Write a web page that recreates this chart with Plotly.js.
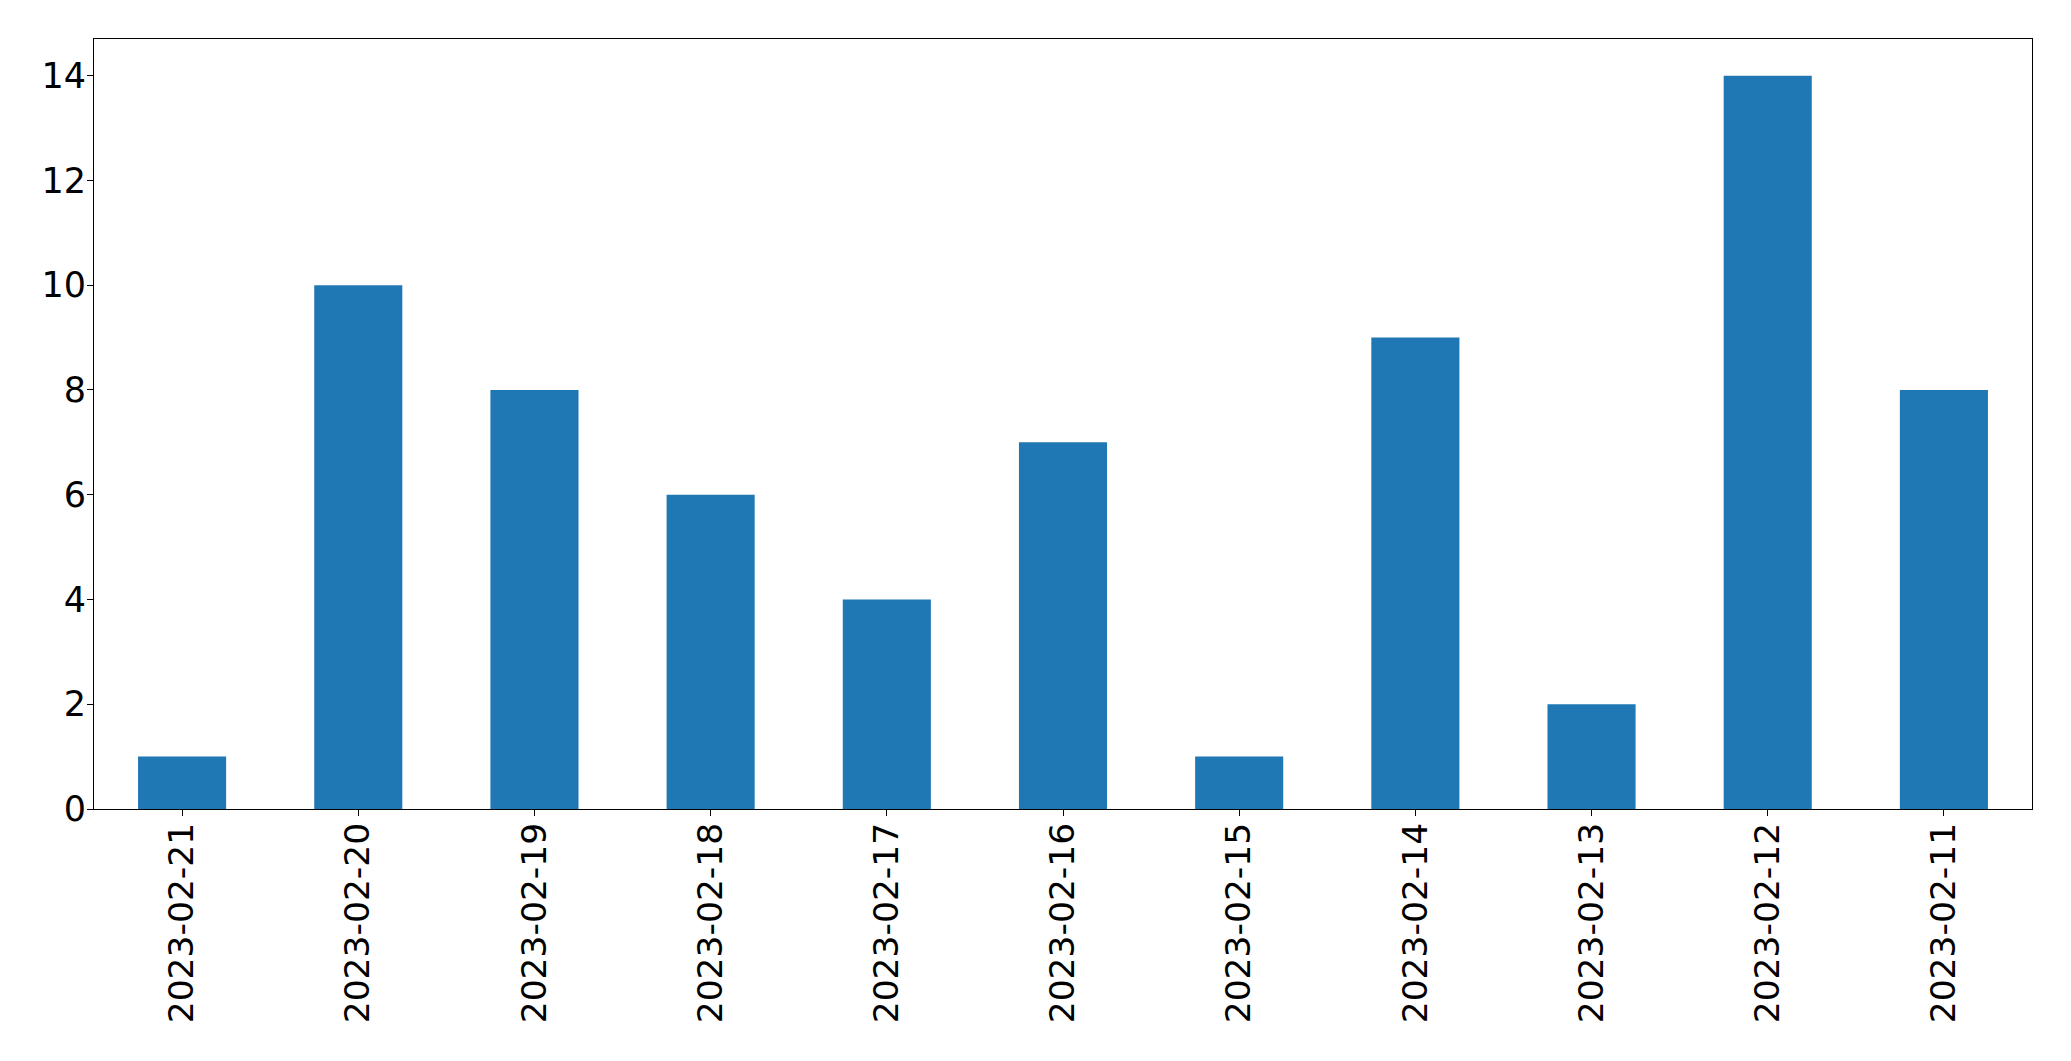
<!DOCTYPE html>
<html>
<head>
<meta charset="utf-8">
<script src="https://cdn.plot.ly/plotly-3.0.1.min.js"></script>
<style>html,body{margin:0;padding:0;background:#fff;}#chart{width:2071px;height:1061px;}</style>
</head>
<body>
<div id="chart"></div>
<script>
const dates = ["2023-02-21","2023-02-20","2023-02-19","2023-02-18","2023-02-17","2023-02-16","2023-02-15","2023-02-14","2023-02-13","2023-02-12","2023-02-11"];
const counts = [1,10,8,6,4,7,1,9,2,14,8];
const yTicks = [0,2,4,6,8,10,12,14];

const font = {family: "DejaVu Sans", size: 35, color: "#000"};
const xfont = {family: "DejaVu Sans", size: 34.5, color: "#000"};
Plotly.newPlot("chart", [{
  type: "bar",
  x: dates,
  y: counts,
  marker: {color: "#1f77b4", line: {width: 0}},
  hoverinfo: "x+y"
}], {
  width: 2071, height: 1061,
  margin: {l: 94, r: 39, t: 39, b: 252, pad: 0},
  paper_bgcolor: "#fff", plot_bgcolor: "#fff",
  bargap: 0.5,
  showlegend: false,
  font: font,
  xaxis: {
    type: "category",
    range: [-0.5, 10.5],
    tickangle: -90,
    ticks: "outside", ticklen: 6, tickwidth: 1, tickcolor: "#000",
    showline: true, mirror: true, linecolor: "#000", linewidth: 1,
    showgrid: false, zeroline: false,
    tickfont: xfont,
    automargin: false,
    ticklabelstandoff: -7
  },
  yaxis: {
    range: [0, 14.7],
    tickvals: yTicks,
    ticktext: yTicks.map(String),
    ticks: "outside", ticklen: 6, tickwidth: 1, tickcolor: "#000",
    showline: true, mirror: true, linecolor: "#000", linewidth: 1,
    showgrid: false, zeroline: false,
    tickfont: font,
    automargin: false,
    ticklabelstandoff: -6
  }
}, {displayModeBar: false, staticPlot: true});
</script>
</body>
</html>
